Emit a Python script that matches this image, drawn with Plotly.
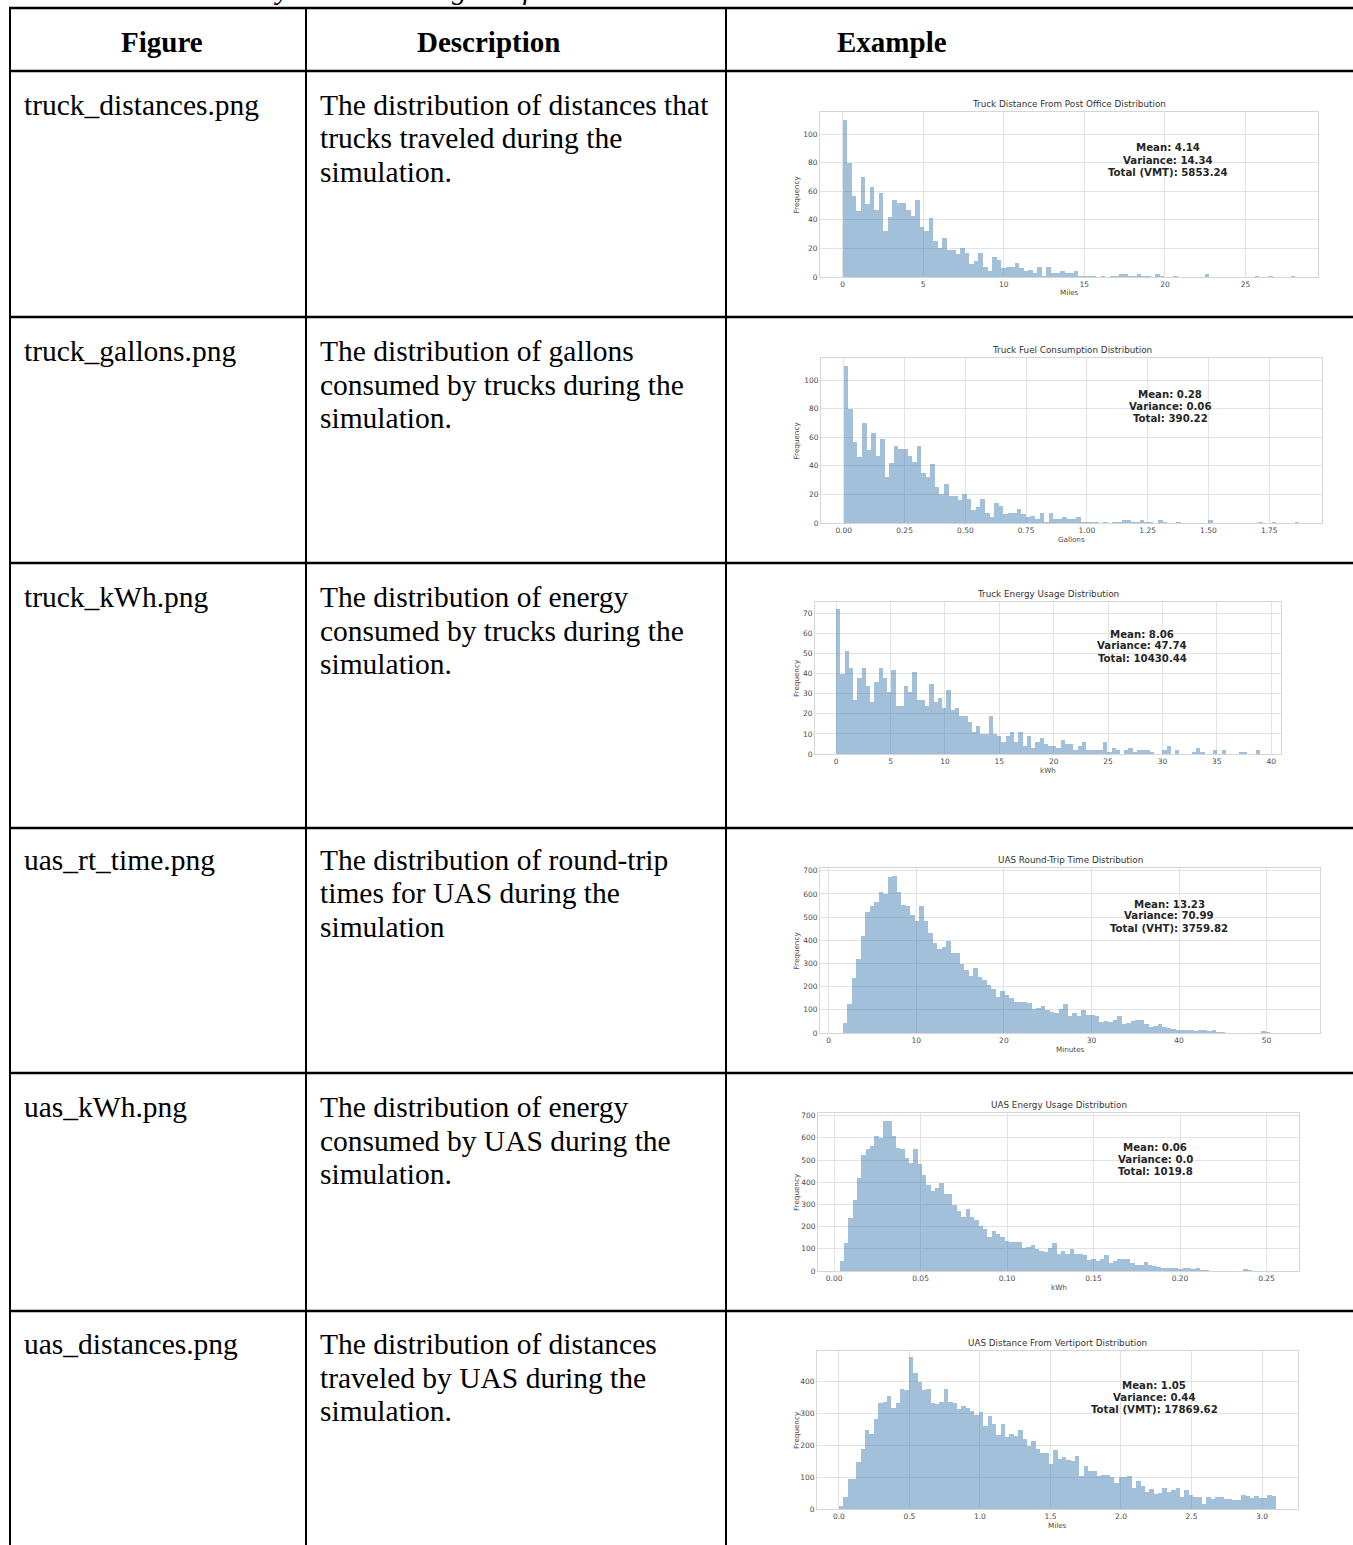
import plotly.graph_objects as go

W, H = 1353, 1545

# ---------------- data ----------------
file_names = ["truck_distances.png", "truck_gallons.png", "truck_kWh.png",
              "uas_rt_time.png", "uas_kWh.png", "uas_distances.png"]

descriptions = [
    ["The distribution of distances that", "trucks traveled during the", "simulation."],
    ["The distribution of gallons", "consumed by trucks during the", "simulation."],
    ["The distribution of energy", "consumed by trucks during the", "simulation."],
    ["The distribution of round-trip", "times for UAS during the", "simulation"],
    ["The distribution of energy", "consumed by UAS during the", "simulation."],
    ["The distribution of distances", "traveled by UAS during the", "simulation."],
]

header_labels = ["Figure", "Description", "Example"]

chart_titles = ["Truck Distance From Post Office Distribution",
                "Truck Fuel Consumption Distribution",
                "Truck Energy Usage Distribution",
                "UAS Round-Trip Time Distribution",
                "UAS Energy Usage Distribution",
                "UAS Distance From Vertiport Distribution"]

x_labels = ["Miles", "Gallons", "kWh", "Minutes", "kWh", "Miles"]

stats_text = [
    ["Mean: 4.14", "Variance: 14.34", "Total (VMT): 5853.24"],
    ["Mean: 0.28", "Variance: 0.06", "Total: 390.22"],
    ["Mean: 8.06", "Variance: 47.74", "Total: 10430.44"],
    ["Mean: 13.23", "Variance: 70.99", "Total (VHT): 3759.82"],
    ["Mean: 0.06", "Variance: 0.0", "Total: 1019.8"],
    ["Mean: 1.05", "Variance: 0.44", "Total (VMT): 17869.62"],
]

# histogram bin counts (100 bins each), bin start and bin width
truck_miles_counts = [110, 80, 57, 46, 70, 51, 63, 47, 59, 32,
                      42, 54, 52, 52, 47, 43, 54, 35, 32, 41,
                      25, 20, 27, 19, 19, 16, 20, 17, 9, 11,
                      17, 7, 4, 14, 12, 6, 7, 7, 10, 6,
                      4, 5, 3, 7, 1, 7, 3, 3, 4, 3,
                      3, 4, 1, 1, 1, 1, 0, 1, 0, 1,
                      1, 2, 2, 1, 1, 2, 1, 1, 0, 2,
                      1, 0, 0, 1, 0, 0, 0, 0, 0, 0,
                      2, 0, 0, 0, 0, 0, 0, 0, 0, 0,
                      0, 1, 0, 0, 1, 0, 0, 0, 0, 1]
truck_miles_bin_start = 0.0
truck_miles_bin_width = 0.281

truck_gallons_counts = [110, 80, 57, 46, 70, 51, 63, 47, 59, 32,
                        42, 54, 52, 52, 47, 43, 54, 35, 32, 41,
                        25, 20, 27, 19, 19, 16, 20, 17, 9, 11,
                        17, 7, 4, 14, 12, 6, 7, 7, 10, 6,
                        4, 5, 3, 7, 1, 7, 3, 3, 4, 3,
                        3, 4, 1, 1, 1, 1, 0, 1, 0, 1,
                        1, 2, 2, 1, 1, 2, 1, 1, 0, 2,
                        1, 0, 0, 1, 0, 0, 0, 0, 0, 0,
                        2, 0, 0, 0, 0, 0, 0, 0, 0, 0,
                        0, 1, 0, 0, 1, 0, 0, 0, 0, 1]
truck_gallons_bin_start = 0.0
truck_gallons_bin_width = 0.01873

truck_kwh_counts = [72, 40, 51, 43, 27, 38, 43, 34, 26, 36,
                    43, 38, 31, 42, 24, 24, 34, 31, 41, 27,
                    27, 24, 35, 26, 28, 23, 32, 22, 23, 19,
                    19, 16, 11, 14, 10, 10, 19, 10, 9, 6,
                    9, 11, 6, 11, 4, 9, 3, 6, 8, 5,
                    4, 4, 3, 7, 5, 5, 2, 4, 6, 2,
                    2, 2, 2, 6, 1, 3, 2, 0, 2, 3,
                    1, 2, 2, 2, 1, 0, 0, 2, 4, 0,
                    2, 0, 0, 0, 1, 3, 1, 0, 0, 2,
                    0, 2, 0, 0, 0, 1, 1, 0, 0, 2]
truck_kwh_bin_start = 0.0
truck_kwh_bin_width = 0.3895

uas_time_counts = [45, 125, 237, 320, 418, 523, 550, 565, 608, 600,
                   675, 678, 610, 553, 548, 508, 485, 550, 483, 432,
                   388, 362, 373, 398, 345, 345, 297, 270, 245, 280,
                   243, 228, 205, 190, 155, 182, 165, 152, 135, 132,
                   132, 130, 105, 107, 117, 100, 92, 85, 105, 124,
                   75, 88, 75, 100, 78, 78, 73, 49, 52, 46,
                   55, 73, 37, 43, 52, 55, 55, 37, 26, 29,
                   40, 26, 23, 16, 12, 12, 14, 12, 10, 13,
                   12, 10, 14, 4, 4, 1, 0, 0, 2, 2,
                   0, 0, 0, 10, 5, 0, 0, 0, 2, 2]
uas_time_bin_start = 1.6
uas_time_bin_width = 0.514

uas_kwh_counts = [45, 125, 237, 320, 418, 523, 550, 565, 608, 600,
                  675, 678, 610, 553, 548, 508, 485, 550, 483, 432,
                  388, 362, 373, 398, 345, 345, 297, 270, 245, 280,
                  243, 228, 205, 190, 155, 182, 165, 152, 135, 132,
                  132, 130, 105, 107, 117, 100, 92, 85, 105, 124,
                  75, 88, 75, 100, 78, 78, 73, 49, 52, 46,
                  55, 73, 37, 43, 52, 55, 55, 37, 26, 29,
                  40, 26, 23, 16, 12, 12, 14, 12, 10, 13,
                  12, 10, 14, 4, 4, 1, 0, 0, 2, 2,
                  0, 0, 0, 10, 5, 0, 0, 0, 2, 2]
uas_kwh_bin_start = 0.0032
uas_kwh_bin_width = 0.00251

uas_miles_counts = [10, 37, 93, 93, 148, 190, 250, 235, 282, 335,
                    337, 355, 317, 332, 377, 373, 477, 428, 400, 375,
                    377, 335, 330, 337, 377, 338, 335, 313, 325, 318,
                    308, 297, 305, 262, 293, 268, 232, 268, 227, 237,
                    230, 250, 220, 197, 215, 188, 175, 175, 140, 187,
                    157, 163, 153, 150, 168, 105, 134, 118, 118, 105,
                    107, 107, 102, 83, 100, 102, 104, 67, 89, 71,
                    55, 62, 47, 49, 65, 55, 60, 65, 39, 60,
                    44, 37, 37, 16, 39, 32, 37, 39, 32, 32,
                    28, 29, 44, 41, 34, 42, 34, 34, 44, 41]
uas_miles_bin_start = 0.0
uas_miles_bin_width = 0.031

# ---------------- layout / style ----------------
SERIF = "Liberation Serif, Times New Roman, serif"
SANS = "DejaVu Sans, sans-serif"
BAR = "rgba(70,130,180,0.5)"
GRID = "#e3e3e3"
FRAME = "#d6d6d6"
TICKC = "#4a4a4a"

charts = [
    dict(counts=truck_miles_counts, start=truck_miles_bin_start, width=truck_miles_bin_width,
         box=(820, 112, 1318, 277), xr=[-1.405, 29.5], yr=[0, 115.5], dx=5, fx="", dy=20,
         stats_xy=(1168, 160)),
    dict(counts=truck_gallons_counts, start=truck_gallons_bin_start, width=truck_gallons_bin_width,
         box=(821, 358, 1322, 523), xr=[-0.0937, 1.967], yr=[0, 115.5], dx=0.25, fx=".2f", dy=20,
         stats_xy=(1170, 406)),
    dict(counts=truck_kwh_counts, start=truck_kwh_bin_start, width=truck_kwh_bin_width,
         box=(815, 602, 1281, 754), xr=[-1.95, 40.9], yr=[0, 75.6], dx=5, fx="", dy=10,
         stats_xy=(1142, 646)),
    dict(counts=uas_time_counts, start=uas_time_bin_start, width=uas_time_bin_width,
         box=(820, 868, 1320, 1033), xr=[-1.0, 56.1], yr=[0, 712], dx=10, fx="", dy=100,
         stats_xy=(1169, 916)),
    dict(counts=uas_kwh_counts, start=uas_kwh_bin_start, width=uas_kwh_bin_width,
         box=(818, 1113, 1299, 1271), xr=[-0.0093, 0.2688], yr=[0, 712], dx=0.05, fx=".2f", dy=100,
         stats_xy=(1155, 1159)),
    dict(counts=uas_miles_counts, start=uas_miles_bin_start, width=uas_miles_bin_width,
         box=(817, 1351, 1298, 1509), xr=[-0.155, 3.255], yr=[0, 497], dx=0.5, fx=".1f", dy=100,
         stats_xy=(1154, 1397)),
]


def fx(px):
    return px / W


def fy(py):
    return 1 - py / H


fig = go.Figure()
layout = dict(width=W, height=H, margin=dict(l=0, r=0, t=0, b=0, pad=0, autoexpand=False),
              paper_bgcolor="white", plot_bgcolor="white",
              showlegend=False, bargap=0)
annotations = []
shapes = []

for i, c in enumerate(charts, start=1):
    sfx = "" if i == 1 else str(i)
    xa, ya = "x" + sfx, "y" + sfx
    n = len(c["counts"])
    centers = [c["start"] + (k + 0.5) * c["width"] for k in range(n)]
    fig.add_trace(go.Bar(x=centers, y=c["counts"], width=c["width"], xaxis=xa, yaxis=ya,
                         marker=dict(color=BAR, line=dict(width=0)), hoverinfo="skip"))
    l, t, r, b = c["box"]
    axis_common = dict(showline=True, linecolor=FRAME, linewidth=1, mirror=True,
                       showgrid=True, gridcolor=GRID, gridwidth=1, zeroline=False,
                       automargin=False,
                       ticks="", tickfont=dict(family=SANS, size=7.5, color=TICKC))
    layout["xaxis" + sfx] = dict(domain=[fx(l), fx(r)], anchor=ya, range=c["xr"],
                                 tick0=0, dtick=c["dx"], tickformat=c["fx"], **axis_common)
    layout["yaxis" + sfx] = dict(domain=[fy(b), fy(t)], anchor=xa, range=c["yr"],
                                 tick0=0, dtick=c["dy"], **axis_common)
    # title
    annotations.append(dict(text=chart_titles[i - 1], x=fx((l + r) / 2), y=fy(t - 8),
                            xref="paper", yref="paper", showarrow=False,
                            xanchor="center", yanchor="middle",
                            font=dict(family=SANS, size=8.8, color="#333333")))
    # x label
    annotations.append(dict(text=x_labels[i - 1], x=fx((l + r) / 2), y=fy(b + 16),
                            xref="paper", yref="paper", showarrow=False,
                            xanchor="center", yanchor="middle",
                            font=dict(family=SANS, size=7.2, color=TICKC)))
    # y label
    annotations.append(dict(text="Frequency", x=fx(796), y=fy((t + b) / 2),
                            xref="paper", yref="paper", showarrow=False, textangle=-90,
                            xanchor="center", yanchor="middle",
                            font=dict(family=SANS, size=7.2, color=TICKC)))
    # stats text
    sx, sy = c["stats_xy"]
    for j, line in enumerate(stats_text[i - 1]):
        annotations.append(dict(text="<b>" + line + "</b>", x=fx(sx), y=fy(sy + (j - 1) * 12),
                                xref="paper", yref="paper", showarrow=False,
                                xanchor="center", yanchor="middle",
                                font=dict(family=SANS, size=10.2, color="#262626")))

# ---------------- table ----------------
row_lines_y = [8, 71, 317, 563, 828, 1073, 1311]
col_lines_x = [10, 306, 726]
for yy in row_lines_y:
    shapes.append(dict(type="line", xref="paper", yref="paper", x0=fx(9), x1=1.0,
                       y0=fy(yy), y1=fy(yy), line=dict(color="black", width=2.5)))
for xx in col_lines_x:
    shapes.append(dict(type="line", xref="paper", yref="paper", x0=fx(xx), x1=fx(xx),
                       y0=fy(7), y1=0.0, line=dict(color="black", width=2)))

header_x = [162, 489, 892]
for hx, lab in zip(header_x, header_labels):
    annotations.append(dict(text="<b>" + lab + "</b>", x=fx(hx), y=fy(42),
                            xref="paper", yref="paper", showarrow=False,
                            xanchor="center", yanchor="middle",
                            font=dict(family=SERIF, size=29, color="black")))

row_first_y = [105, 351, 597, 860, 1107, 1344]
for ry, fname, desc in zip(row_first_y, file_names, descriptions):
    annotations.append(dict(text=fname, x=fx(22), y=fy(ry), xref="paper", yref="paper",
                            showarrow=False, xanchor="left", yanchor="middle",
                            font=dict(family=SERIF, size=29.5, color="black")))
    for j, line in enumerate(desc):
        annotations.append(dict(text=line, x=fx(318), y=fy(ry + j * 33.5),
                                xref="paper", yref="paper", showarrow=False,
                                xanchor="left", yanchor="middle",
                                font=dict(family=SERIF, size=29.5, color="black")))

# caption (cut off at the top of the page, as in the reference)
annotations.append(dict(text="Table 3.2 <i>Automatically Generated Figures from Simulation</i>",
                        x=fx(10), y=fy(-11), xref="paper", yref="paper", showarrow=False,
                        xanchor="left", yanchor="middle",
                        font=dict(family=SERIF, size=29, color="black")))

layout["annotations"] = annotations
layout["shapes"] = shapes
fig.update_layout(**layout)
fig.write_html("out.html",
               config={"displayModeBar": False},
               post_script="document.body.style.margin='0px';document.body.style.overflow='hidden';")
